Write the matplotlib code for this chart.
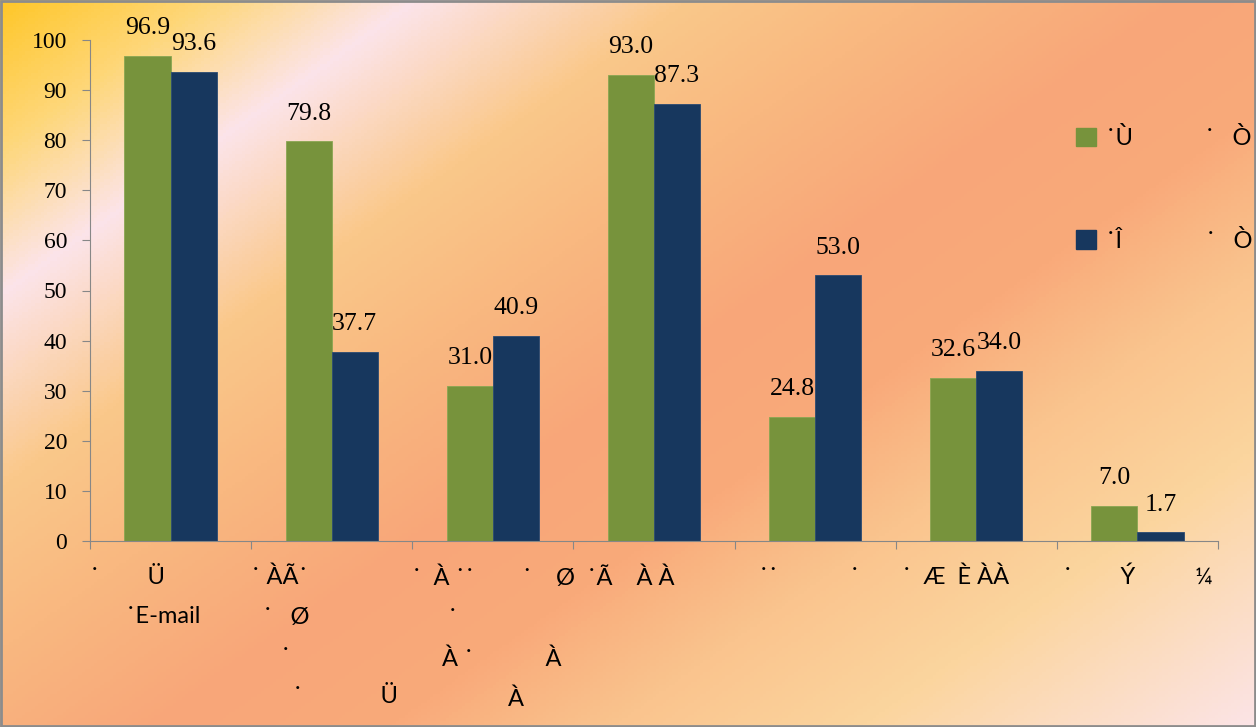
import numpy as np
import matplotlib
matplotlib.use("Agg")
from matplotlib import pyplot as plt
from matplotlib.colors import LinearSegmentedColormap, to_rgb
from matplotlib.patches import Patch, Rectangle

# data
series_a = [96.9, 79.8, 31.0, 93.0, 24.8, 32.6, 7.0]
series_b = [93.6, 37.7, 40.9, 87.3, 53.0, 34.0, 1.7]
legend_labels = ["˙Ù" + " " * 12 + "˙" + " " * 3 + "Ò",
                 "˙Î" + " " * 14 + "˙" + " " * 3 + "Ò"]
# garbled category labels, left aligned from each category boundary
cat_labels = [
    "˙" + " " * 8 + "Ü\n" + " " * 6 + "˙E-mail",
    "˙ ÀÃ˙\n  ˙   Ø\n     ˙\n       ˙" + " " * 13 + "Ü",
    "˙  À ˙˙" + " " * 8 + "˙" + " " * 4 + "Ø" + "  ˙Ã" + " " * 4 + "À À\n"
    + " " * 6 + "˙\n" + " " * 5 + "À ˙" + " " * 12 + "À\n" + " " * 16 + "À",
    "",
    " " * 4 + "˙˙" + " " * 12 + "˙",
    " ˙  Æ  È ÀÀ",
    " ˙" + " " * 8 + "Ý" + " " * 10 + "¼",
    "",
]

green = "#77933C"
navy = "#17375E"

W, H = 1256, 727
fig = plt.figure(figsize=(W / 100, H / 100), dpi=100)

# background gradient
bg = fig.add_axes([0, 0, 1, 1], zorder=-1)
stops = [(0.00, "#FFC72A"), (0.09, "#FED77A"), (0.18, "#FCE4EA"),
         (0.30, "#FAC88A"), (0.40, "#F9B880"), (0.52, "#F8A679"),
         (0.62, "#F9AA7A"), (0.72, "#FAC48E"), (0.83, "#FBD59E"),
         (1.00, "#FCE4E6")]
cmap = LinearSegmentedColormap.from_list("bg", [(s, to_rgb(c)) for s, c in stops])
xx, yy = np.meshgrid(np.linspace(0, 1, 400), np.linspace(0, 1, 240))
bg.imshow(0.55 * xx + 0.45 * yy, cmap=cmap, aspect="auto", extent=[0, 1, 1, 0], vmin=0, vmax=1)
bg.set_xlim(0, 1)
bg.set_ylim(1, 0)
bg.axis("off")
bg.add_patch(Rectangle((0.001, 0.002), 0.998, 0.996, fill=False, edgecolor="#8C8C8C", lw=2))

ax = fig.add_axes([90 / W, 1 - 541 / H, (1218 - 90) / W, (541 - 40) / H])
ax.set_facecolor("none")

x = np.arange(len(series_a))
w = 0.286
b1 = ax.bar(x - w / 2, series_a, w, color=green, edgecolor="#8AA652", lw=0.6)
b2 = ax.bar(x + w / 2, series_b, w, color=navy, edgecolor="#2A4A72", lw=0.6)
for bars, vals in ((b1, series_a), (b2, series_b)):
    for r, v in zip(bars, vals):
        ax.annotate("{:.1f}".format(v), (r.get_x() + r.get_width() / 2, v),
                    xytext=(0, 12), textcoords="offset points", ha="center", va="bottom",
                    family="Liberation Serif", fontsize=18.5)

ax.set_xlim(-0.5, len(series_a) - 0.5)
ax.set_ylim(0, 100)
ax.set_yticks(range(0, 101, 10))
ax.tick_params(axis="y", labelsize=17, length=5.5, color="#878787", pad=11)
for t in ax.get_yticklabels():
    t.set_family("Liberation Serif")
ax.set_xticks(np.arange(-0.5, len(series_a)), cat_labels)
ax.tick_params(axis="x", length=5.5, color="#878787", pad=13)
for t in ax.get_xticklabels():
    t.set_family("Lato")
    t.set_fontsize(17)
    t.set_horizontalalignment("left")
    t.set_linespacing(2.1)
for s in ("top", "right"):
    ax.spines[s].set_visible(False)
for s in ("left", "bottom"):
    ax.spines[s].set_color("#878787")

handles = [Patch(color=green), Patch(color=navy)]
fig.legend(handles, legend_labels, loc="upper left", bbox_to_anchor=(1055 / W, 1 - 106 / H),
           frameon=False, prop={"family": "Lato", "size": 17}, labelspacing=3.42,
           handlelength=0.85, handleheight=0.85, handletextpad=0.4)

fig.savefig("out.png", dpi=100)
